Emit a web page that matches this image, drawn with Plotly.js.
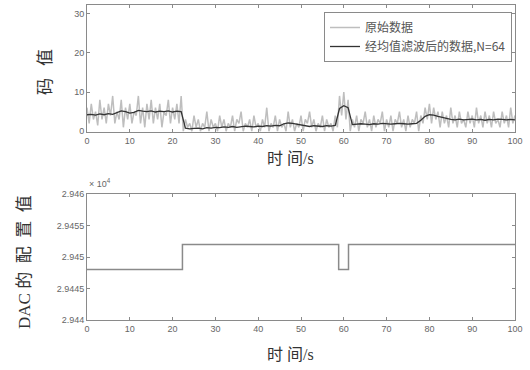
<!DOCTYPE html>
<html><head><meta charset="utf-8">
<script src="https://cdn.plot.ly/plotly-3.0.1.min.js"></script>
<style>html,body{margin:0;padding:0;background:#fff}#chart{width:530px;height:370px}</style>
</head><body><div id="chart"></div>
<script>
// raw code values, one sample every 0.5 s (t = 0 ... 100)
const rawStep = 0.5;
const rawValues = [
  6,2,7,3,5,1.5,8,3,6,2,7,4,9,2,5,3,8,1,6,3,7,2,5,4,9,2,6,1,7,3,8,2,6,3,7,1,5,4,8,2,6,3,7,2,9,
  0,3,1,2,0,4,1,3,0,2,1,5,0,3,1,2,0,4,1,3,0,2,1,4,0,3,2,5,0,2,1,3,0,4,1,2,0,3,1,6,0,2,1,4,0,3,1,2,0,5,1,3,0,2,1,4,0,3,2,5,1,3,0,2,1,4,0,3,1,2,0,4,1,
  9,4,10,3,8,
  0,3,1,4,0,3,2,5,1,3,0,4,1,3,2,5,0,3,1,4,0,3,2,5,1,3,0,4,1,3,2,5,0,4,
  2,6,3,7,2,6,3,5,
  1,5,2,4,1,6,2,4,1,5,2,3,1,5,2,4,1,6,2,4,1,5,2,4,1,5,2,3,1,5,2,4,1,6,2,4
];
// filtered code values, one per second (t = 0 ... 100)
const filteredStep = 1;
const filteredValues = [
  4.2,4.3,4.1,4.4,4.2,4.5,4.3,4.8,
  5.2,5.0,4.6,4.8,5.3,5.1,5.0,5.2,4.9,5.1,5.0,5.2,4.9,5.1,5.0,
  0.8,0.6,0.7,0.8,0.6,0.9,0.8,1.0,0.9,1.1,1.0,1.2,1.0,1.1,1.3,1.2,1.1,1.3,1.2,1.4,1.3,1.5,1.4,
  1.9,2.1,2.0,1.8,1.5,
  1.3,1.2,1.4,1.3,1.2,1.4,1.3,1.5,
  5.8,6.5,6.0,
  1.7,1.8,1.9,1.8,1.7,1.9,1.8,2.0,1.9,1.8,1.9,2.0,1.9,1.8,1.9,2.0,
  2.8,3.8,4.2,4.1,3.8,3.5,3.2,
  3.0,2.9,3.1,2.9,3.0,3.1,2.9,3.0,2.8,3.0,2.9,3.1,3.0,2.9,3.0,2.9
];
const dacTimes = [0, 22.3, 58.8, 61.1, 100];
const dacValues = [29448, 29452, 29448, 29452, 29452];
const timeTicks = [0,10,20,30,40,50,60,70,80,90,100];
const codeTicks = [0,10,20,30];
const dacTicks = [29440,29445,29450,29455,29460];
const dacTickLabels = ['2.944','2.9445','2.945','2.9455','2.946'];
const legendNames = ['原始数据','经均值滤波后的数据,N=64'];

const rawX = rawValues.map((v,i)=>i*rawStep);
const filtX = filteredValues.map((v,i)=>i*filteredStep);

const tickFont = {family:'Liberation Sans, Arial', size:9, color:'#666'};
const cjk = "'Liberation Serif', 'Noto Sans CJK SC', serif";
const axisCommon = {showline:true, linecolor:'#8a8a8a', linewidth:1, mirror:'ticks',
  ticks:'inside', ticklen:3, tickcolor:'#8a8a8a', showgrid:false, zeroline:false, tickfont:tickFont};

const traces = [
  {x:rawX, y:rawValues, type:'scatter', mode:'lines', name:legendNames[0],
   line:{color:'rgba(110,110,110,0.45)', width:1.5}, xaxis:'x', yaxis:'y'},
  {x:filtX, y:filteredValues, type:'scatter', mode:'lines', name:legendNames[1],
   line:{color:'#333', width:1.3}, xaxis:'x', yaxis:'y'},
  {x:dacTimes, y:dacValues, type:'scatter', mode:'lines', line:{shape:'hv', color:'#8a8a8a', width:1.5},
   showlegend:false, xaxis:'x2', yaxis:'y2'}
];

function px(x){return (x-87)/428;}
function py(y){return (320-y)/315;}

const ann = (text, x, y, size, angle, extra) => Object.assign({text, xref:'paper', yref:'paper',
  x:px(x), y:py(y), xanchor:'center', yanchor:'middle', textangle:angle||0, showarrow:false,
  font:{family:cjk, size, color:'#333'}}, extra||{});

const layout = {
  width:530, height:370, paper_bgcolor:'#fff', plot_bgcolor:'#fff',
  margin:{l:87, r:15, t:5, b:50},
  showlegend:true,
  legend:{x:px(512), xanchor:'right', y:py(12), yanchor:'top', bgcolor:'#fff',
    bordercolor:'#8a8a8a', borderwidth:1, font:{family:"'Noto Sans CJK SC'", size:12, color:'#555'},
    tracegroupgap:0, itemwidth:30},
  xaxis:Object.assign({}, axisCommon, {domain:[0,1], anchor:'y', range:[0,100], tickvals:timeTicks}),
  yaxis:Object.assign({}, axisCommon, {domain:[py(132), 1], anchor:'x', range:[-0.2,32.2], tickvals:codeTicks}),
  xaxis2:Object.assign({}, axisCommon, {domain:[0,1], anchor:'y2', range:[0,100], tickvals:timeTicks}),
  yaxis2:Object.assign({}, axisCommon, {domain:[0, py(194)], anchor:'x2', range:[29440,29460],
    tickvals:dacTicks, ticktext:dacTickLabels}),
  annotations:[
    ann('码\u2002\u2009值', 45, 72, 17, -90),
    ann('时 间/s', 290, 158, 16, 0),
    ann('DAC 的\u2002配\u2002置\u2002值', 24, 262, 17, -90),
    ann('时 间/s', 290, 354, 16, 0),
    ann('× 10<sup>4</sup>', 87, 183, 9, 0, {xanchor:'left', font:{family:'Liberation Sans, Arial', size:9, color:'#666'}})
  ]
};
Plotly.newPlot('chart', traces, layout, {staticPlot:true, displayModeBar:false});
</script></body></html>
